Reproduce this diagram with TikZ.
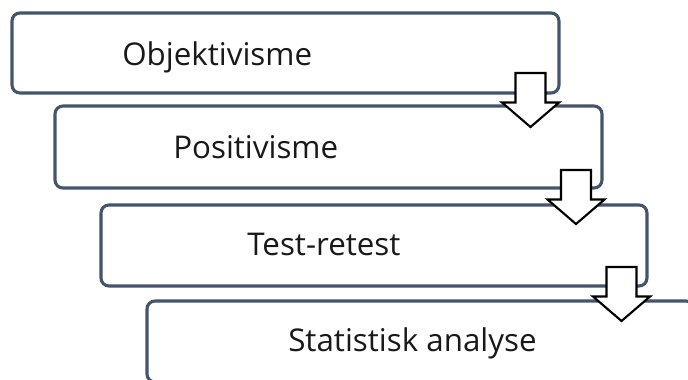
\documentclass[tikz,border=0pt]{standalone}
\usepackage{fontspec}
\setmainfont{Open Sans}
\begin{document}
\begin{tikzpicture}[x=0.75pt,y=-0.75pt,
  box/.style={draw=boxline, line width=2.3pt, rounded corners=6pt, fill=white, inner sep=0pt},
  lbl/.style={anchor=base west, inner sep=0pt, font=\fontsize{23.5}{28}\selectfont, text=black!90},
  downarrow/.pic={\draw[draw=black, line width=1.6pt, fill=white, line join=miter]
     (-15,0) -- (15,0) -- (15,29.5) -- (28.5,29.5) -- (0,54) -- (-28.5,29.5) -- (-15,29.5) -- cycle;}]
\definecolor{boxline}{HTML}{44546A}
\useasboundingbox (0,0) rectangle (688,379);
\clip (0,0) rectangle (688,379);
\node[box, minimum width=410.25pt, minimum height=60pt] (b1) at (285.5,53) {};
\node[box, minimum width=410.25pt, minimum height=61.5pt] (b2) at (328.5,147) {};
\node[box, minimum width=409.5pt, minimum height=60.75pt] (b3) at (374,245.5) {};
\node[box, minimum width=410.25pt, minimum height=60.75pt] (b4) at (420.5,341.5) {};
\node[lbl] (t1) at (122,65) {Objektivisme};
\node[lbl] (t2) at (173,158) {Positivisme};
\node[lbl] (t3) at (247,255) {Test-retest};
\node[lbl] (t4) at (288,351) {Statistisk analyse};
\pic at (530.5,73) {downarrow};
\pic at (576,170) {downarrow};
\pic at (621.5,267) {downarrow};
\end{tikzpicture}
\end{document}
